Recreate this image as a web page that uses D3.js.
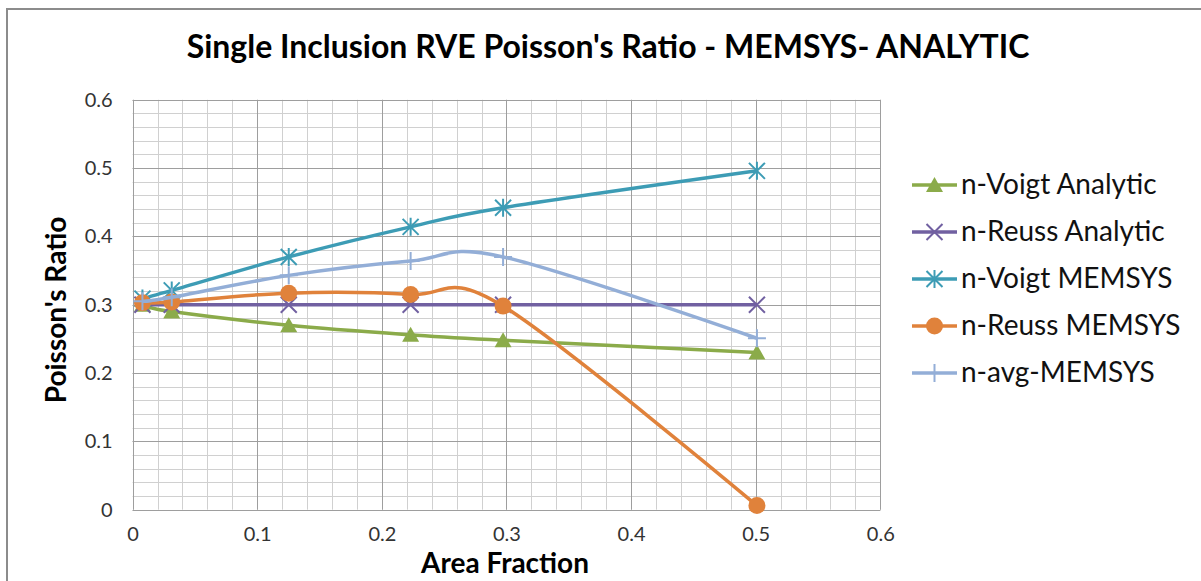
<!DOCTYPE html>
<html>
<head>
<meta charset="utf-8">
<script src="https://cdn.jsdelivr.net/npm/d3@7"></script>
<style>
  body { margin: 0; background: #fff; }
  svg { display: block; }
</style>
</head>
<body>
<div id="chart"></div>
<script>
// values
var areaFraction = [0.0079, 0.0314, 0.1253, 0.2231, 0.2973, 0.501];
var voigtAnalytic = [0.300, 0.290, 0.270, 0.256, 0.248, 0.230];
var reussAnalytic = [0.300, 0.300, 0.300, 0.300, 0.300, 0.300];
var voigtMemsys = [0.309, 0.321, 0.370, 0.414, 0.442, 0.496];
var reussMemsys = [0.303, 0.304, 0.317, 0.315, 0.298, 0.006];
var avgMemsys = [0.305, 0.311, 0.343, 0.364, 0.370, 0.251];

var seriesNames = ["n-Voigt Analytic", "n-Reuss Analytic", "n-Voigt MEMSYS", "n-Reuss MEMSYS", "n-avg-MEMSYS"];
var seriesColors = ["#8bab4a", "#7160a1", "#3d9cb5", "#e0823b", "#93aed7"];
var seriesMarkers = ["triangle", "x", "star", "circle", "plus"];
var seriesValues = [voigtAnalytic, reussAnalytic, voigtMemsys, reussMemsys, avgMemsys];

var xTicks = [0, 0.1, 0.2, 0.3, 0.4, 0.5, 0.6];
var yTicks = [0, 0.1, 0.2, 0.3, 0.4, 0.5, 0.6];

var W = 1201, H = 581;
var svg = d3.select("#chart").append("svg")
    .attr("width", W)
    .attr("height", H);

svg.append("rect").attr("width", W).attr("height", H).attr("fill", "#fff");

// chart frame (right and bottom edges run off the picture)
svg.append("rect")
    .attr("x", 7).attr("y", 9)
    .attr("width", 1210).attr("height", 600)
    .attr("fill", "none")
    .attr("stroke", "#8c8c8c")
    .attr("stroke-width", 2);

var x = d3.scaleLinear().domain([0, 0.6]).range([132.6, 880.3]);
var y = d3.scaleLinear().domain([0, 0.6]).range([509.7, 99.8]);

// minor grid every 0.02
var minor = d3.range(0, 31).map(function(i){ return i * 0.02; });
var grid = svg.append("g");
grid.selectAll(".vmin").data(minor).enter().append("line")
    .attr("x1", function(d){ return Math.round(x(d)) + 0.5; })
    .attr("x2", function(d){ return Math.round(x(d)) + 0.5; })
    .attr("y1", y(0)).attr("y2", y(0.6))
    .attr("stroke", "#d0d0d0").attr("stroke-width", 1);
grid.selectAll(".hmin").data(minor).enter().append("line")
    .attr("y1", function(d){ return Math.round(y(d)) + 0.5; })
    .attr("y2", function(d){ return Math.round(y(d)) + 0.5; })
    .attr("x1", x(0)).attr("x2", x(0.6))
    .attr("stroke", "#d0d0d0").attr("stroke-width", 1);
grid.selectAll(".vmaj").data(xTicks).enter().append("line")
    .attr("x1", function(d){ return Math.round(x(d)) + 0.5; })
    .attr("x2", function(d){ return Math.round(x(d)) + 0.5; })
    .attr("y1", y(0)).attr("y2", y(0.6))
    .attr("stroke", "#9e9e9e").attr("stroke-width", 1);
grid.selectAll(".hmaj").data(yTicks).enter().append("line")
    .attr("y1", function(d){ return Math.round(y(d)) + 0.5; })
    .attr("y2", function(d){ return Math.round(y(d)) + 0.5; })
    .attr("x1", x(0)).attr("x2", x(0.6))
    .attr("stroke", "#9e9e9e").attr("stroke-width", 1);

// axes, labels only
var xAxis = svg.append("g")
    .attr("transform", "translate(0," + y(0) + ")")
    .call(d3.axisBottom(x).tickValues(xTicks).tickSize(0).tickPadding(17)
      .tickFormat(function(d){ return d === 0 ? "0" : d3.format(".1f")(d); }));
var yAxis = svg.append("g")
    .attr("transform", "translate(" + x(0) + ",0)")
    .call(d3.axisLeft(y).tickValues(yTicks).tickSize(0).tickPadding(20)
      .tickFormat(function(d){ return d === 0 ? "0" : d3.format(".1f")(d); }));
[xAxis, yAxis].forEach(function(a){
  a.select(".domain").remove();
  a.selectAll("text")
    .attr("font-family", "Lato, 'Open Sans', sans-serif")
    .attr("font-size", 20)
    .attr("fill", "#333");
});

// titles
svg.append("text")
    .attr("x", 608).attr("y", 58)
    .attr("text-anchor", "middle")
    .attr("font-family", "Lato, sans-serif")
    .attr("font-weight", "bold")
    .attr("font-size", 32)
    .attr("fill", "#000")
    .text("Single Inclusion RVE Poisson's Ratio - MEMSYS- ANALYTIC");
svg.append("text")
    .attr("x", 505).attr("y", 573)
    .attr("text-anchor", "middle")
    .attr("font-family", "Lato, sans-serif")
    .attr("font-weight", "bold")
    .attr("font-size", 28)
    .attr("fill", "#000")
    .text("Area Fraction");
svg.append("text")
    .attr("transform", "translate(66,310) rotate(-90)")
    .attr("text-anchor", "middle")
    .attr("font-family", "Lato, sans-serif")
    .attr("font-weight", "bold")
    .attr("font-size", 28)
    .attr("fill", "#000")
    .text("Poisson's Ratio");

function drawMarker(g, type, color, cx, cy) {
  if (type === "triangle") {
    g.append("path")
      .attr("d", "M" + cx + "," + (cy - 8) + "L" + (cx + 8.5) + "," + (cy + 7) + "L" + (cx - 8.5) + "," + (cy + 7) + "Z")
      .attr("fill", color);
  } else if (type === "circle") {
    g.append("circle").attr("cx", cx).attr("cy", cy).attr("r", 8.5).attr("fill", color);
  } else if (type === "x") {
    var s = 8;
    g.append("path")
      .attr("d", "M" + (cx - s) + "," + (cy - s) + "L" + (cx + s) + "," + (cy + s) + "M" + (cx + s) + "," + (cy - s) + "L" + (cx - s) + "," + (cy + s))
      .attr("stroke", color).attr("stroke-width", 2).attr("fill", "none");
  } else if (type === "star") {
    var s = 8;
    g.append("path")
      .attr("d", "M" + (cx - s) + "," + (cy - s) + "L" + (cx + s) + "," + (cy + s) + "M" + (cx + s) + "," + (cy - s) + "L" + (cx - s) + "," + (cy + s) +
        "M" + cx + "," + (cy - 9) + "L" + cx + "," + (cy + 9))
      .attr("stroke", color).attr("stroke-width", 2).attr("fill", "none");
  } else if (type === "plus") {
    g.append("path")
      .attr("d", "M" + cx + "," + (cy - 9) + "L" + cx + "," + (cy + 9) + "M" + (cx - 9) + "," + cy + "L" + (cx + 9) + "," + cy)
      .attr("stroke", color).attr("stroke-width", 2).attr("fill", "none");
  }
}

// excel style smoothing
var line = d3.line()
    .x(function(d){ return x(d[0]); })
    .y(function(d){ return y(d[1]); })
    .curve(d3.curveCardinal.tension(0));

var plot = svg.append("g");
seriesValues.forEach(function(vals, i){
  var pts = areaFraction.map(function(a, j){ return [a, vals[j]]; });
  var g = plot.append("g");
  g.append("path")
    .datum(pts)
    .attr("d", line)
    .attr("fill", "none")
    .attr("stroke", seriesColors[i])
    .attr("stroke-width", 3.5)
    .attr("stroke-linejoin", "round");
  pts.forEach(function(p){
    drawMarker(g, seriesMarkers[i], seriesColors[i], x(p[0]), y(p[1]));
  });
});

// legend
var legendY = [185, 232, 279, 326, 373];
var legend = svg.append("g");
seriesNames.forEach(function(name, i){
  var g = legend.append("g");
  g.append("line")
    .attr("x1", 912).attr("x2", 957)
    .attr("y1", legendY[i]).attr("y2", legendY[i])
    .attr("stroke", seriesColors[i]).attr("stroke-width", 3.5);
  drawMarker(g, seriesMarkers[i], seriesColors[i], 934.5, legendY[i]);
  g.append("text")
    .attr("x", 961).attr("y", legendY[i] + 9)
    .attr("font-family", "Lato, sans-serif")
    .attr("font-size", 28)
    .attr("fill", "#111")
    .text(name);
});
</script>
</body>
</html>
